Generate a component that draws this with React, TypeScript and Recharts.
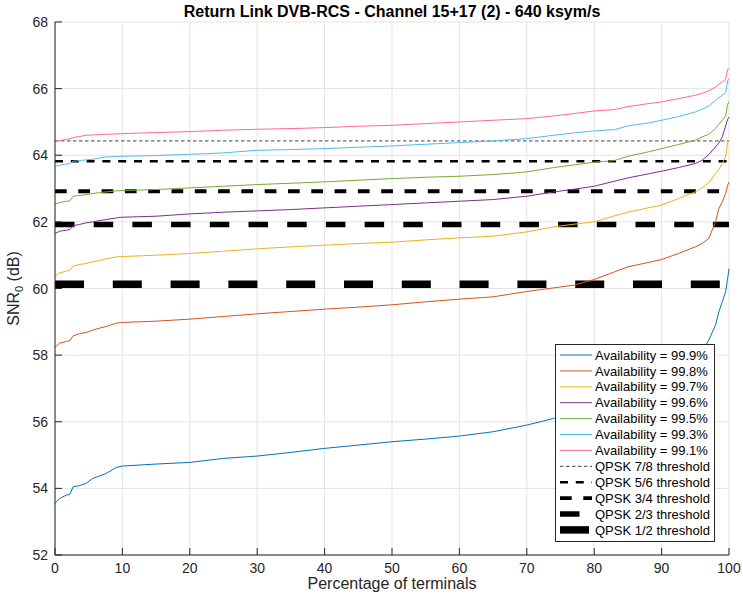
import React from 'react';
import { LineChart, Line, XAxis, YAxis, CartesianGrid, Legend, Label } from 'recharts';

const FONT = '"Liberation Sans", Arial, Helvetica, sans-serif';
const AXIS = '#262626';

const titleText = 'Return Link DVB-RCS - Channel 15+17 (2) - 640 ksym/s';

const pct = [0, 0.7, 1.7, 2.2, 2.7, 3.6, 4.6, 5.6, 6.6, 7.6, 9.1, 10, 15, 20, 25, 30, 35, 40, 45, 50, 55, 60, 65, 70, 74, 77, 80, 83, 85, 88, 90, 92.5, 95, 96, 97, 98, 98.5, 99, 99.5, 99.8, 100];

const avail999 = [53.55, 53.7, 53.8, 53.82, 54.05, 54.08, 54.15, 54.3, 54.37, 54.45, 54.63, 54.67, 54.73, 54.78, 54.9, 54.97, 55.08, 55.2, 55.3, 55.4, 55.48, 55.57, 55.7, 55.9, 56.1, 56.3, 56.5, 56.7, 56.85, 57.1, 57.3, 57.55, 57.9, 58.1, 58.45, 58.9, 59.3, 59.6, 59.9, 60.3, 60.6];
const avail998 = [58.24, 58.36, 58.41, 58.43, 58.58, 58.64, 58.68, 58.75, 58.81, 58.86, 58.96, 58.98, 59.02, 59.08, 59.16, 59.24, 59.31, 59.38, 59.44, 59.51, 59.6, 59.68, 59.75, 59.91, 60.02, 60.1, 60.27, 60.5, 60.65, 60.78, 60.87, 61.05, 61.25, 61.35, 61.5, 62.0, 62.4, 62.6, 62.85, 63.1, 63.2];
const avail997 = [60.37, 60.47, 60.52, 60.55, 60.67, 60.72, 60.75, 60.8, 60.84, 60.89, 60.95, 60.96, 61.0, 61.05, 61.12, 61.19, 61.25, 61.3, 61.35, 61.39, 61.46, 61.52, 61.57, 61.7, 61.85, 61.93, 62.0, 62.18, 62.29, 62.42, 62.5, 62.7, 62.9, 63.02, 63.17, 63.45, 63.57, 63.75, 63.97, 64.37, 64.45];
const avail996 = [61.65, 61.72, 61.75, 61.77, 61.89, 61.92, 61.97, 62.0, 62.04, 62.07, 62.12, 62.14, 62.17, 62.24, 62.29, 62.33, 62.37, 62.42, 62.47, 62.52, 62.57, 62.62, 62.67, 62.77, 62.9, 62.98, 63.07, 63.22, 63.32, 63.44, 63.52, 63.63, 63.75, 63.85, 64.02, 64.25, 64.37, 64.55, 64.88, 65.08, 65.15];
const avail995 = [62.54, 62.58, 62.62, 62.63, 62.77, 62.79, 62.82, 62.85, 62.88, 62.9, 62.93, 62.94, 62.97, 63.02, 63.07, 63.12, 63.16, 63.2, 63.25, 63.3, 63.34, 63.37, 63.42, 63.5, 63.63, 63.71, 63.79, 63.84, 63.97, 64.1, 64.2, 64.32, 64.45, 64.55, 64.63, 64.8, 64.93, 65.05, 65.18, 65.53, 65.6];
const avail993 = [63.67, 63.7, 63.74, 63.75, 63.82, 63.84, 63.86, 63.88, 63.92, 63.95, 63.96, 63.97, 63.99, 64.03, 64.07, 64.15, 64.17, 64.2, 64.24, 64.28, 64.33, 64.38, 64.43, 64.5, 64.6, 64.67, 64.73, 64.77, 64.88, 64.97, 65.05, 65.16, 65.3, 65.38, 65.48, 65.65, 65.73, 65.8, 65.88, 66.23, 66.3];
const avail991 = [64.43, 64.44, 64.48, 64.5, 64.53, 64.56, 64.6, 64.61, 64.62, 64.63, 64.64, 64.65, 64.68, 64.71, 64.75, 64.78, 64.8, 64.83, 64.87, 64.9, 64.95, 65.0, 65.05, 65.1, 65.18, 65.25, 65.33, 65.37, 65.46, 65.55, 65.6, 65.7, 65.8, 65.86, 65.93, 66.05, 66.13, 66.2, 66.28, 66.58, 66.6];

const curveNames = ['Availability = 99.9%', 'Availability = 99.8%', 'Availability = 99.7%', 'Availability = 99.6%', 'Availability = 99.5%', 'Availability = 99.3%', 'Availability = 99.1%'];
const curveValues = [avail999, avail998, avail997, avail996, avail995, avail993, avail991];
const curveColors = ['#0072BD', '#D95319', '#EDB120', '#7E2F8E', '#77AC30', '#4DBEEE', '#FF6699'];

const thresholdNames = ['QPSK 7/8 threshold', 'QPSK 5/6 threshold', 'QPSK 3/4 threshold', 'QPSK 2/3 threshold', 'QPSK 1/2 threshold'];
const thresholdValues = [64.43, 63.82, 62.92, 61.92, 60.13];
const thresholdSpan = [0, 100];
const thresholdColors = ['#444444', '#000000', '#000000', '#000000', '#000000'];
const thresholdWidths = [1, 2.5, 3.8, 5.5, 7.5];
const thresholdDashes = ['3.5 2.5', '8 7.8', '11.7 11.6', '19.5 19.2', '29 28.8'];

const xTicks = [0, 10, 20, 30, 40, 50, 60, 70, 80, 90, 100];
const yTicks = [52, 54, 56, 58, 60, 62, 64, 66, 68];

const curveData = curveValues.map((vals) => pct.map((x, i) => ({ x, y: vals[i] })));
const thresholdData = thresholdValues.map((v) => thresholdSpan.map((x) => ({ x, y: v })));

const legendItems = [
  ...curveNames.map((name, i) => ({ name, color: curveColors[i], width: 1, dash: undefined as string | undefined })),
  ...thresholdNames.map((name, i) => ({ name, color: thresholdColors[i], width: thresholdWidths[i], dash: thresholdDashes[i] })),
];

const XTickBottom = (props: any) => {
  const { x, y, payload } = props;
  return (
    <g>
      <line x1={x} x2={x} y1={y} y2={y - 7} stroke={AXIS} strokeWidth={1} />
      <text x={x} y={y + 18} textAnchor="middle" fontSize={14} fontFamily={FONT} fill={AXIS}>{payload.value}</text>
    </g>
  );
};
const XTickTop = (props: any) => {
  const { x, y } = props;
  return <line x1={x} x2={x} y1={y} y2={y + 7} stroke={AXIS} strokeWidth={1} />;
};
const YTickLeft = (props: any) => {
  const { x, y, payload } = props;
  return (
    <g>
      <line x1={x} x2={x + 7} y1={y} y2={y} stroke={AXIS} strokeWidth={1} />
      <text x={x - 7} y={y} dy="0.36em" textAnchor="end" fontSize={14} fontFamily={FONT} fill={AXIS}>{payload.value}</text>
    </g>
  );
};
const YTickRight = (props: any) => {
  const { x, y } = props;
  return <line x1={x} x2={x - 7} y1={y} y2={y} stroke={AXIS} strokeWidth={1} />;
};

const renderLegend = () => (
  <svg width={160} height={198} style={{ display: 'block' }}>
    <rect x={0.5} y={0.5} width={159} height={197} fill="#ffffff" stroke={AXIS} strokeWidth={1} />
    {legendItems.map((it, i) => {
      const cy = 11 + i * 15.9;
      return (
        <g key={it.name}>
          <line x1={5} x2={37} y1={cy} y2={cy} stroke={it.color} strokeWidth={it.width} strokeDasharray={it.dash} />
          <text x={40} y={cy} dy="0.36em" fontSize={13} fontFamily={FONT} fill="#000">{it.name}</text>
        </g>
      );
    })}
  </svg>
);

const XLabel = (props: any) => {
  const vb = props.viewBox || { x: 55, width: 674 };
  return (
    <text x={vb.x + vb.width / 2} y={589} textAnchor="middle" fontSize={16} fontFamily={FONT} fill={AXIS}>
      Percentage of terminals
    </text>
  );
};
const YLabel = (props: any) => {
  const vb = props.viewBox || { y: 22, height: 533 };
  const cy = vb.y + vb.height / 2;
  const cx = 18.5;
  return (
    <text x={cx} y={cy} transform={`rotate(-90, ${cx}, ${cy})`} textAnchor="middle" fontSize={16} fontFamily={FONT} fill={AXIS}>
      <tspan>SNR</tspan>
      <tspan dy={4} fontSize={11}>0</tspan>
      <tspan dy={-4}> (dB)</tspan>
    </text>
  );
};

export default function App() {
  return (
    <div style={{ position: 'absolute', left: 0, top: 0, width: 743, height: 603, background: '#fff' }}>
      <div style={{ position: 'absolute', left: 55, top: 0, width: 674, height: 24, lineHeight: '24px', textAlign: 'center',
        fontFamily: FONT, fontSize: 16, fontWeight: 'bold', color: '#000', zIndex: 2, whiteSpace: 'nowrap' }}>
        {titleText}
      </div>
      <LineChart width={743} height={603} margin={{ top: 22, right: 14, bottom: 0, left: 0 }} style={{ fontFamily: FONT }}>
        <CartesianGrid stroke="#e3e3e3" strokeWidth={1} />
        <XAxis dataKey="x" type="number" domain={[0, 100]} ticks={xTicks} height={48} tickSize={0} tickMargin={0}
          tick={<XTickBottom />} stroke={AXIS} axisLine={{ stroke: AXIS }} interval={0}>
          <Label content={<XLabel />} />
        </XAxis>
        <XAxis xAxisId="top" orientation="top" dataKey="x" type="number" domain={[0, 100]} ticks={xTicks} height={0}
          tickSize={0} tickMargin={0} tick={<XTickTop />} axisLine={{ stroke: AXIS }} allowDataOverflow interval={0} />
        <YAxis type="number" domain={[52, 68]} ticks={yTicks} width={55} tickSize={0} tickMargin={0}
          tick={<YTickLeft />} axisLine={{ stroke: AXIS }} interval={0}>
          <Label content={<YLabel />} />
        </YAxis>
        <YAxis yAxisId="right" orientation="right" type="number" domain={[52, 68]} ticks={yTicks} width={0}
          tickSize={0} tickMargin={0} tick={<YTickRight />} axisLine={{ stroke: AXIS }} allowDataOverflow interval={0} />
        {thresholdData.map((d, i) => (
          <Line key={thresholdNames[i]} data={d} dataKey="y" name={thresholdNames[i]} type="linear"
            stroke={thresholdColors[i]} strokeWidth={thresholdWidths[i]} strokeDasharray={thresholdDashes[i]}
            dot={false} activeDot={false} isAnimationActive={false} />
        ))}
        {curveData.map((d, i) => (
          <Line key={curveNames[i]} data={d} dataKey="y" name={curveNames[i]} type="linear"
            stroke={curveColors[i]} strokeWidth={1} dot={false} activeDot={false} isAnimationActive={false} />
        ))}
        <Legend layout="vertical" align="center" verticalAlign="middle" content={renderLegend}
          wrapperStyle={{ left: 555, top: 344, width: 160, height: 198 }} />
      </LineChart>
    </div>
  );
}
